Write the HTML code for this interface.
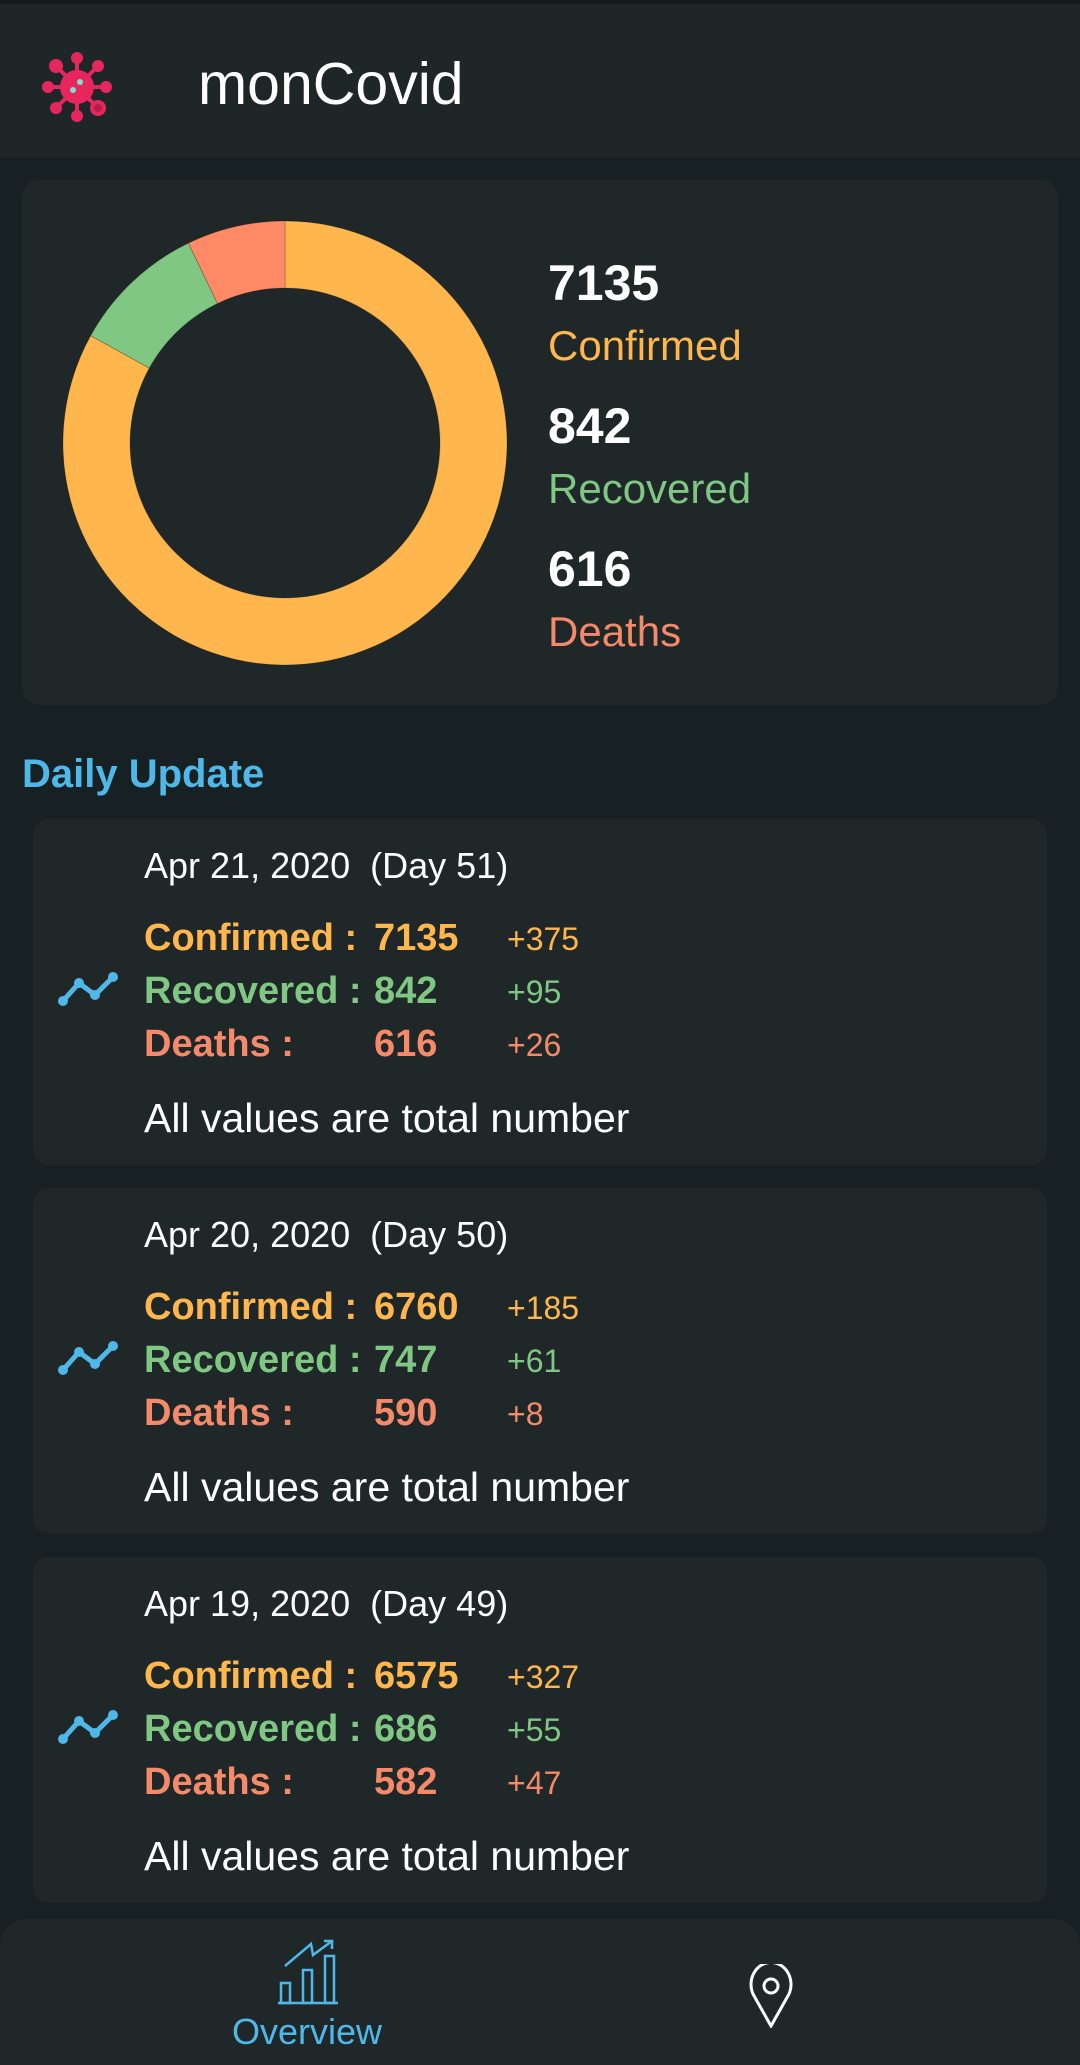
<!DOCTYPE html>
<html><head><meta charset="utf-8">
<style>
*{margin:0;padding:0;box-sizing:border-box}
body{width:1080px;height:2065px;background:#172022;font-family:"Liberation Sans",sans-serif;position:relative;overflow:hidden;color:#fff}
.hdr{position:absolute;left:0;top:0;width:1080px;height:158px;background:#1f2628;border-top:4px solid #131a1c}
.title{position:absolute;left:198px;top:46px;font-size:59px;color:#fff}
.card{position:absolute;background:#1f2729;border-radius:16px}
.big{position:absolute;left:548px;font-size:50px;font-weight:bold;color:#fff}
.lbl{position:absolute;left:548px;font-size:42px}
.du{position:absolute;left:22px;top:752px;font-size:40px;color:#4fb8e8;font-weight:bold}
.dc{left:33px;width:1014px;height:346px}
.date{position:absolute;left:111px;top:26px;font-size:36px;color:#fff}
.row{position:absolute;left:111px;font-size:38px;font-weight:bold}
.row .v{position:absolute;left:230px}
.row .d{position:absolute;left:363px;font-size:32px;font-weight:normal;top:4px}
.note{position:absolute;left:111px;top:276px;font-size:41px;color:#fff}
.ic{position:absolute;left:24px;top:150px}
.nav{position:absolute;left:0;top:1919px;width:1080px;height:146px;background:#1f2729;border-radius:26px 26px 0 0}
.O{color:#ffb74d}.G{color:#81c784}.R{color:#f48a6a}
</style></head><body>
<div class="hdr">
<svg style="position:absolute;left:42px;top:48px" width="70" height="70" viewBox="0 0 70 70">
<g stroke="#e8265e" stroke-width="4" fill="#e8265e">
<line x1="35" y1="35" x2="35" y2="6"/><line x1="35" y1="35" x2="35" y2="64"/><line x1="35" y1="35" x2="6" y2="35"/><line x1="35" y1="35" x2="64" y2="35"/>
<line x1="35" y1="35" x2="14" y2="14"/><line x1="35" y1="35" x2="56" y2="56"/><line x1="35" y1="35" x2="56" y2="14"/><line x1="35" y1="35" x2="14" y2="56"/>
<circle cx="35" cy="6" r="4"/><circle cx="35" cy="64" r="4"/><circle cx="6" cy="35" r="4"/><circle cx="64" cy="35" r="4"/><circle cx="14" cy="14" r="5"/><circle cx="56" cy="56" r="6" fill="#b0204a"/><circle cx="56" cy="14" r="4"/><circle cx="14" cy="56" r="4"/>
<circle cx="35" cy="35" r="15"/></g>
<circle cx="38" cy="30" r="3" fill="#7fe0d0"/><circle cx="31" cy="38" r="3" fill="#7fe0d0"/>
</svg>
<div class="title">monCovid</div>
</div>

<div class="card" style="left:22px;top:180px;width:1036px;height:525px">
<svg id="donut" style="position:absolute;left:38px;top:38px" width="450" height="450"></svg>
<div class="big" style="left:526px;top:74px">7135</div>
<div class="lbl O" style="left:526px;top:142px">Confirmed</div>
<div class="big" style="left:526px;top:217px">842</div>
<div class="lbl G" style="left:526px;top:285px">Recovered</div>
<div class="big" style="left:526px;top:360px">616</div>
<div class="lbl R" style="left:526px;top:428px">Deaths</div>
</div>

<div class="du">Daily Update</div>
<div id="days"></div>

<div class="nav">
<svg style="position:absolute;left:276px;top:20px" width="64" height="66" viewBox="0 0 64 66" fill="none" stroke="#4fb8e8" stroke-width="2.5">
<line x1="2" y1="64" x2="62" y2="64"/><rect x="5" y="44" width="9" height="20"/><rect x="27" y="31" width="9" height="33"/><rect x="49" y="17" width="9" height="47"/>
<polyline points="9,27 35,5 37,16 56,2"/><polyline points="48,2 56,2 56,10"/></svg>
<div style="position:absolute;left:232px;top:92px;font-size:36px;color:#4fb8e8">Overview</div>
<svg style="position:absolute;left:748px;top:45px" width="46" height="64" viewBox="0 0 46 64" fill="none" stroke="#fff" stroke-width="3">
<path d="M23 62 L5 30 A20 22 0 1 1 41 30 Z"/><circle cx="23" cy="22" r="7"/></svg>
</div>

<script>
const sliceLabels=["Confirmed","Recovered","Deaths"];
const sliceValues=[7135,842,616];
const sliceColors=["#ffb74d","#81c784","#ff8a65"];
const ns="http://www.w3.org/2000/svg";
const svg=document.getElementById('donut');
const cx=225,cy=225,R=222,r=155;
const total=sliceValues.reduce((a,b)=>a+b,0);
let a0=0;
function pt(rad,ang){return [cx+rad*Math.sin(ang),cy-rad*Math.cos(ang)];}
sliceValues.forEach((v,i)=>{
  const a1=a0+v/total*2*Math.PI;
  const lg=(a1-a0)>Math.PI?1:0;
  const [x1,y1]=pt(R,a0),[x2,y2]=pt(R,a1),[x3,y3]=pt(r,a1),[x4,y4]=pt(r,a0);
  const p=document.createElementNS(ns,'path');
  p.setAttribute('d',`M${x1} ${y1} A${R} ${R} 0 ${lg} 1 ${x2} ${y2} L${x3} ${y3} A${r} ${r} 0 ${lg} 0 ${x4} ${y4} Z`);
  p.setAttribute('fill',sliceColors[i]);
  p.setAttribute('stroke','rgba(0,0,0,0.2)');
  p.setAttribute('stroke-width','1');
  
  
  svg.appendChild(p);
  a0=a1;
});

const dayDates=["Apr 21, 2020","Apr 20, 2020","Apr 19, 2020"];
const dayNums=[51,50,49];
const dayConfirmed=[7135,6760,6575];
const dayRecovered=[842,747,686];
const dayDeaths=[616,590,582];
const dConfirmed=[375,185,327];
const dRecovered=[95,61,55];
const dDeaths=[26,8,47];
const wrap=document.getElementById('days');
dayDates.forEach((d,i)=>{
  const c=document.createElement('div');
  c.className='card dc';
  c.style.top=(819+i*369)+'px';
  
  
  c.innerHTML=`<div class="date">${d}&nbsp; (Day ${dayNums[i]})</div>
<div class="row O" style="top:98px">Confirmed :<span class="v">${dayConfirmed[i]}</span><span class="d">+${dConfirmed[i]}</span></div>
<div class="row G" style="top:151px">Recovered :<span class="v">${dayRecovered[i]}</span><span class="d">+${dRecovered[i]}</span></div>
<div class="row R" style="top:204px">Deaths :<span class="v">${dayDeaths[i]}</span><span class="d">+${dDeaths[i]}</span></div>
<div class="note">All values are total number</div>
<svg class="ic" width="64" height="40" viewBox="0 0 64 40"><polyline points="6,32 22,14 38,26 56,8" fill="none" stroke="#4fb8e8" stroke-width="5" stroke-linecap="round" stroke-linejoin="round"/><circle cx="6" cy="32" r="5" fill="#4fb8e8"/><circle cx="22" cy="14" r="5" fill="#4fb8e8"/><circle cx="38" cy="26" r="5" fill="#4fb8e8"/><circle cx="56" cy="8" r="5" fill="#4fb8e8"/></svg>`;
  wrap.appendChild(c);
});
</script>
</body></html>
